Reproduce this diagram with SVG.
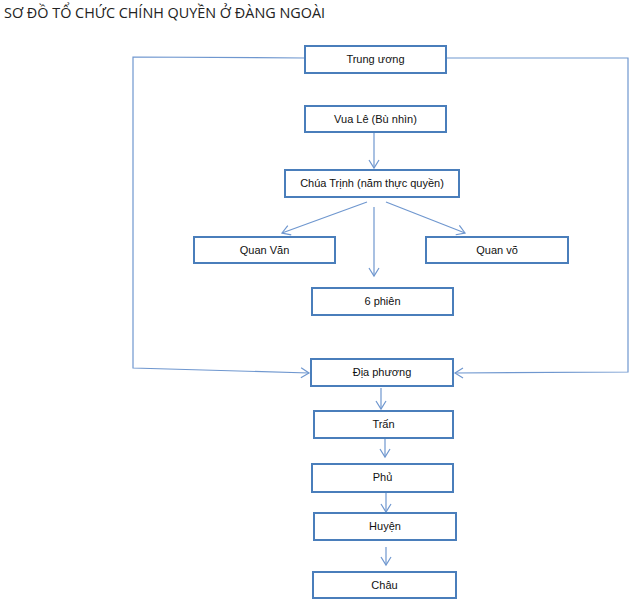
<svg xmlns="http://www.w3.org/2000/svg" width="632" height="606" viewBox="0 0 632 606">
<style>
.box{fill:#fff;stroke:#4a7ebb;stroke-width:2}
.t{font-family:"Liberation Sans",Arial,sans-serif;font-size:11px;fill:#111;text-anchor:middle}
.c{fill:none;stroke:#6f97cf;stroke-width:1.2}
.title{font-family:"Open Sans","Liberation Sans",sans-serif;font-size:14.4px;fill:#222}
</style>
<defs>
<marker id="a" markerWidth="12" markerHeight="12" refX="10" refY="6" orient="auto" markerUnits="userSpaceOnUse">
<path d="M2,1 L10,6 L2,11" fill="none" stroke="#6f97cf" stroke-width="1.2"/>
</marker>
</defs>
<rect width="632" height="606" fill="#fff"/>
<text class="title" x="4" y="18">SƠ ĐỒ TỔ CHỨC CHÍNH QUYỀN Ở ĐÀNG NGOÀI</text>
<g id="connectors">
<polyline class="c" points="305,58 133,57 133,368 309,373" marker-end="url(#a)"/>
<polyline class="c" points="446,58 628,58 628,372 455,373" marker-end="url(#a)"/>
<line class="c" x1="374" y1="132" x2="374" y2="168" marker-end="url(#a)"/>
<line class="c" x1="367" y1="202" x2="282" y2="233" marker-end="url(#a)"/>
<line class="c" x1="374" y1="207" x2="374" y2="276" marker-end="url(#a)"/>
<line class="c" x1="386" y1="202" x2="465" y2="233" marker-end="url(#a)"/>
<line class="c" x1="381" y1="388" x2="381" y2="409" marker-end="url(#a)"/>
<line class="c" x1="385" y1="439" x2="385" y2="457" marker-end="url(#a)"/>
<line class="c" x1="386" y1="492" x2="386" y2="512" marker-end="url(#a)"/>
<line class="c" x1="386" y1="547" x2="386" y2="565" marker-end="url(#a)"/>
</g>
<g id="trung-uong"><rect class="box" x="305" y="46" width="141" height="27"/><text class="t" x="375.5" y="63">Trung ương</text></g>
<g id="vua-le"><rect class="box" x="305" y="106" width="141" height="26"/><text class="t" x="375.5" y="123">Vua Lê (Bù nhìn)</text></g>
<g id="chua-trinh"><rect class="box" x="285" y="170" width="174" height="27"/><text class="t" x="372" y="187">Chúa Trịnh (năm thực quyền)</text></g>
<g id="quan-van"><rect class="box" x="194" y="237" width="141" height="26"/><text class="t" x="264.5" y="254">Quan Văn</text></g>
<g id="quan-vo"><rect class="box" x="426" y="237" width="142" height="26"/><text class="t" x="497" y="254">Quan võ</text></g>
<g id="sau-phien"><rect class="box" x="312" y="288" width="141" height="27"/><text class="t" x="382.5" y="305">6 phiên</text></g>
<g id="dia-phuong"><rect class="box" x="311" y="359" width="142" height="27"/><text class="t" x="382" y="376">Địa phương</text></g>
<g id="tran"><rect class="box" x="314" y="411" width="139" height="27"/><text class="t" x="383.5" y="428">Trấn</text></g>
<g id="phu"><rect class="box" x="312" y="464" width="141" height="28"/><text class="t" x="382.5" y="481">Phủ</text></g>
<g id="huyen"><rect class="box" x="314" y="513" width="142" height="27"/><text class="t" x="385" y="530">Huyện</text></g>
<g id="chau"><rect class="box" x="313" y="572" width="143" height="26"/><text class="t" x="384.5" y="589">Châu</text></g>
</svg>
